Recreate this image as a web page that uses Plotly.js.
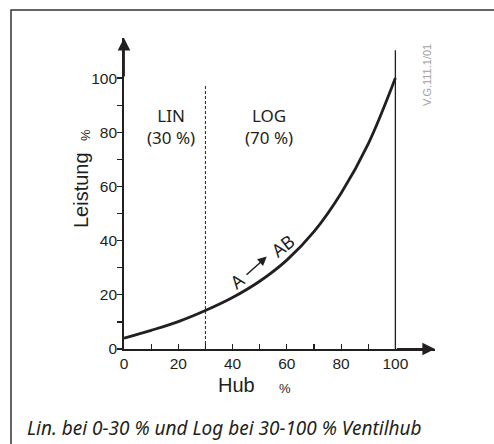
<!DOCTYPE html>
<html>
<head>
<meta charset="utf-8">
<script src="https://cdn.plot.ly/plotly-3.0.1.min.js"></script>
<style>
  html, body { margin: 0; padding: 0; background: #fff; }
  #chart { width: 494px; height: 444px; }
</style>
</head>
<body>
<div id="chart"></div>
<script>
// ---- data ----
const hub = [0, 10, 20, 30, 40, 50, 60, 70, 80, 90, 100];
const leistung = [4, 6.9, 10.1, 14.2, 19, 25, 32.8, 43.3, 57.5, 75.7, 100];
const xTickVals = [0, 10, 20, 30, 40, 50, 60, 70, 80, 90, 100];
const xTickText = ['0', '', '20', '', '40', '', '60', '', '80', '', '100'];
const yTickVals = [0, 10, 20, 30, 40, 50, 60, 70, 80, 90, 100];
const yTickText = ['0', '', '20', '', '40', '', '60', '', '80', '', '100'];
const linLimit = 30;   // LIN / LOG boundary (% Hub)
const fullStroke = 100; // full valve stroke
const xMax = 114.6;
const yMax = 114.8;

const ink = '#231f20';
const sans = 'Liberation Sans, Arial, sans-serif';
const myriad = 'Noto Sans, Open Sans, sans-serif';

const W = 494, H = 444;
const px = v => v / W;
const py = v => 1 - v / H;

const trace = {
  x: hub, y: leistung, type: 'scatter', mode: 'lines',
  line: { color: ink, width: 2.8, shape: 'spline', smoothing: 1 },
  hoverinfo: 'skip', showlegend: false
};

const layout = {
  width: W, height: H,
  margin: { l: 0, r: 0, t: 0, b: 0, pad: 0 },
  paper_bgcolor: '#fff', plot_bgcolor: 'rgba(0,0,0,0)',
  showlegend: false,
  xaxis: {
    domain: [px(124), px(435)], range: [0, xMax],
    showgrid: false, zeroline: false, showline: true,
    linecolor: ink, linewidth: 1.8,
    tickmode: 'array', tickvals: xTickVals, ticktext: xTickText,
    ticks: 'inside', ticklen: 5, tickwidth: 1.2, tickcolor: ink,
    tickfont: { family: sans, size: 15.5, color: ink },
    fixedrange: true
  },
  yaxis: {
    domain: [py(349), py(38)], range: [0, yMax],
    showgrid: false, zeroline: false, showline: true,
    linecolor: ink, linewidth: 1.8,
    tickmode: 'array', tickvals: yTickVals, ticktext: yTickText,
    ticks: 'outside', ticklen: 5, tickwidth: 1.2, tickcolor: ink,
    ticklabelstandoff: -3,
    tickfont: { family: sans, size: 15.5, color: ink },
    fixedrange: true
  },
  shapes: [
    // frame
    { type: 'rect', xref: 'paper', yref: 'paper', x0: px(11), x1: 1.05, y0: -0.1, y1: py(10),
      line: { color: '#333', width: 1.5 }, fillcolor: 'rgba(0,0,0,0)' },
    // LIN/LOG boundary
    { type: 'line', xref: 'x', yref: 'y', x0: linLimit, x1: linLimit, y0: 0, y1: 97.8,
      line: { color: ink, width: 1, dash: '3px,2px' } },
    // 100 % stroke line
    { type: 'line', xref: 'x', yref: 'y', x0: fullStroke, x1: fullStroke, y0: 0, y1: 110.3,
      line: { color: ink, width: 1.3 } }
  ],
  annotations: [
    // axis arrowheads
    { x: xMax, y: 0, ax: 100, ay: 0, xref: 'x', yref: 'y', axref: 'x', ayref: 'y',
      showarrow: true, arrowhead: 2, arrowsize: 1.4, arrowwidth: 1.8, arrowcolor: ink, text: '' },
    { x: 0, y: yMax, ax: 0, ay: 100, xref: 'x', yref: 'y', axref: 'x', ayref: 'y',
      showarrow: true, arrowhead: 2, arrowsize: 1.4, arrowwidth: 1.8, arrowcolor: ink, text: '' },
    // axis titles
    { text: 'Leistung', xref: 'paper', yref: 'paper', x: px(81), y: py(190), textangle: -90,
      showarrow: false, xanchor: 'center', yanchor: 'middle',
      font: { family: sans, size: 20, color: ink } },
    { text: '%', xref: 'paper', yref: 'paper', x: px(85), y: py(135), textangle: -90,
      showarrow: false, xanchor: 'center', yanchor: 'middle',
      font: { family: sans, size: 13, color: ink } },
    { text: 'Hub', xref: 'paper', yref: 'paper', x: px(236), y: py(385),
      showarrow: false, xanchor: 'center', yanchor: 'middle',
      font: { family: sans, size: 20, color: ink } },
    { text: '%', xref: 'paper', yref: 'paper', x: px(285), y: py(388),
      showarrow: false, xanchor: 'center', yanchor: 'middle',
      font: { family: sans, size: 13, color: ink } },
    // region labels
    { text: 'LIN<br>(30 %)', xref: 'paper', yref: 'paper', x: px(171), y: py(126),
      showarrow: false, xanchor: 'center', yanchor: 'middle',
      font: { family: myriad, size: 17, color: ink } },
    { text: 'LOG<br>(70 %)', xref: 'paper', yref: 'paper', x: px(269), y: py(126),
      showarrow: false, xanchor: 'center', yanchor: 'middle',
      font: { family: myriad, size: 17, color: ink } },
    // A -> AB
    { text: 'A', xref: 'x', yref: 'y', x: 41.5, y: 25.2, textangle: -38,
      showarrow: false, xanchor: 'center', yanchor: 'middle',
      font: { family: myriad, size: 18, color: ink } },
    { text: 'AB', xref: 'x', yref: 'y', x: 58.3, y: 38.2, textangle: -38,
      showarrow: false, xanchor: 'center', yanchor: 'middle',
      font: { family: myriad, size: 18, color: ink } },
    { x: 52.6, y: 34.1, ax: 44.6, ay: 26.9, xref: 'x', yref: 'y', axref: 'x', ayref: 'y',
      showarrow: true, arrowhead: 2, arrowsize: 1.2, arrowwidth: 1.5, arrowcolor: ink, text: '' },
    // code
    { text: 'V.G.111.1/01', xref: 'paper', yref: 'paper', x: px(427), y: py(75), textangle: -90,
      showarrow: false, xanchor: 'center', yanchor: 'middle',
      font: { family: sans, size: 11, color: '#a0a0a0' } },
    // caption
    { text: '<i>Lin. bei 0-30 % und Log bei 30-100 % Ventilhub</i>', xref: 'paper', yref: 'paper',
      x: px(25), y: py(428), showarrow: false, xanchor: 'left', yanchor: 'middle',
      font: { family: myriad, size: 19, color: ink } }
  ]
};

Plotly.newPlot('chart', [trace], layout, { displayModeBar: false, staticPlot: true });
</script>
</body>
</html>
